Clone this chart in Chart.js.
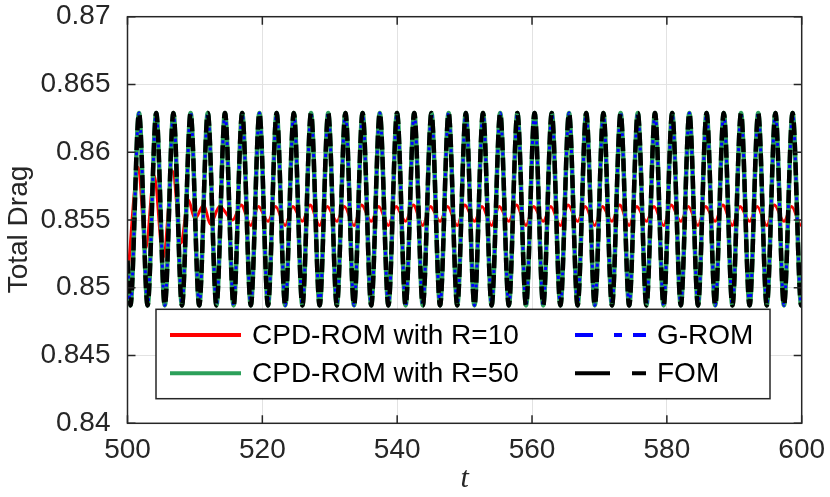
<!DOCTYPE html>
<html>
<head>
<meta charset="utf-8">
<script src="https://cdn.jsdelivr.net/npm/chart.js@4.4.1/dist/chart.umd.min.js"></script>
<style>
  html, body { margin: 0; padding: 0; background: #fff; }
  canvas { display: block; }
</style>
</head>
<body>
<canvas id="dragChart" width="830" height="497"></canvas>
<script>
// extrema of the full-order signal (G-ROM and CPD-ROM R=50 lie on top of it)
const fomT = [500, 500.43, 501.71, 502.98, 504.26, 505.53, 506.81, 508.08, 509.36, 510.64,
  511.91, 513.19, 514.46, 515.74, 517.01, 518.29, 519.57, 520.84, 522.12, 523.39,
  524.67, 525.94, 527.22, 528.5, 529.77, 531.05, 532.32, 533.6, 534.87, 536.15,
  537.42, 538.7, 539.98, 541.25, 542.53, 543.8, 545.08, 546.36, 547.63, 548.91,
  550.18, 551.46, 552.73, 554.01, 555.28, 556.56, 557.83, 559.11, 560.38, 561.66,
  562.93, 564.21, 565.49, 566.76, 568.04, 569.31, 570.59, 571.86, 573.14, 574.41,
  575.69, 576.97, 578.24, 579.52, 580.79, 582.07, 583.34, 584.62, 585.89, 587.17,
  588.44, 589.72, 591.0, 592.27, 593.55, 594.82, 596.1, 597.37, 598.65, 599.93, 600];
const fomY = [0.8520, 0.8487, 0.8629, 0.8487, 0.8629, 0.8487, 0.8629, 0.8487, 0.8629, 0.8487,
  0.8629, 0.8487, 0.8629, 0.8487, 0.8629, 0.8487, 0.8629, 0.8487, 0.8629, 0.8487,
  0.8629, 0.8487, 0.8629, 0.8487, 0.8629, 0.8487, 0.8629, 0.8487, 0.8629, 0.8487,
  0.8629, 0.8487, 0.8629, 0.8487, 0.8629, 0.8487, 0.8629, 0.8487, 0.8629, 0.8487,
  0.8629, 0.8487, 0.8629, 0.8487, 0.8629, 0.8487, 0.8629, 0.8487, 0.8629, 0.8487,
  0.8629, 0.8487, 0.8629, 0.8487, 0.8629, 0.8487, 0.8629, 0.8487, 0.8629, 0.8487,
  0.8629, 0.8487, 0.8629, 0.8487, 0.8629, 0.8487, 0.8629, 0.8487, 0.8629, 0.8487,
  0.8629, 0.8487, 0.8629, 0.8487, 0.8629, 0.8487, 0.8629, 0.8487, 0.8629, 0.8487, 0.8487];
const gromY = fomY;
const cpd50Y = fomY;

// CPD-ROM with R=10: transient, then small wiggle around 0.8555
const cpd10T = [500, 501.6, 502.7, 503.95, 505.3, 506.7, 507.95, 509.0, 510.0, 511.3,
  512.3, 513.65, 515.6, 516.86, 518.29, 519.42, 520.84, 521.97, 523.39, 524.52,
  525.94, 527.07, 528.5, 529.62, 531.05, 532.17, 533.6, 534.72, 536.15, 537.27,
  538.7, 539.83, 541.25, 542.38, 543.8, 544.93, 546.36, 547.48, 548.91, 550.03,
  551.46, 552.58, 554.01, 555.13, 556.56, 557.68, 559.11, 560.23, 561.66, 562.78,
  564.21, 565.34, 566.76, 567.89, 569.31, 570.44, 571.86, 572.99, 574.41, 575.54,
  576.97, 578.09, 579.52, 580.64, 582.07, 583.19, 584.62, 585.74, 587.17, 588.29,
  589.72, 590.85, 592.27, 593.4, 594.82, 595.95, 597.37, 598.5, 599.93, 600];
const cpd10Y = [0.8506, 0.8589, 0.8529, 0.8583, 0.8522, 0.8586, 0.8533, 0.8565, 0.8551, 0.8561,
  0.8547, 0.8560, 0.8550, 0.8561, 0.8546, 0.8560, 0.8549, 0.8560, 0.8546, 0.8560,
  0.8549, 0.8561, 0.8546, 0.8560, 0.8549, 0.8560, 0.8546, 0.8561, 0.8549, 0.8560,
  0.8546, 0.8560, 0.8549, 0.8561, 0.8546, 0.8560, 0.8549, 0.8560, 0.8546, 0.8561,
  0.8549, 0.8560, 0.8546, 0.8560, 0.8549, 0.8561, 0.8546, 0.8560, 0.8549, 0.8560,
  0.8546, 0.8561, 0.8549, 0.8560, 0.8546, 0.8560, 0.8549, 0.8561, 0.8546, 0.8560,
  0.8549, 0.8560, 0.8546, 0.8561, 0.8549, 0.8560, 0.8546, 0.8560, 0.8549, 0.8561,
  0.8546, 0.8560, 0.8549, 0.8560, 0.8546, 0.8561, 0.8549, 0.8560, 0.8546, 0.8547];

const xTicks = [500, 520, 540, 560, 580, 600];
const yTicks = [0.84, 0.845, 0.85, 0.855, 0.86, 0.865, 0.87];

const TEXT = '#262626';
const FONT = "'Liberation Sans', Arial, Helvetica, sans-serif";

function pts(ts, ys) {
  return ts.map((t, i) => ({ x: t, y: ys[i] }));
}

// legend entries (drawn in a box inside the axes, two columns)
const legendItems = [
  { label: 'CPD-ROM with R=10', color: '#ff0000', dash: [], col: 0, row: 0 },
  { label: 'CPD-ROM with R=50', color: '#2ca05a', dash: [], col: 0, row: 1 },
  { label: 'G-ROM', color: '#0000ff', dash: [18, 21, 8, 11], col: 1, row: 0 },
  { label: 'FOM', color: '#000000', dash: [35, 22], col: 1, row: 1 }
];

const framePlugin = {
  id: 'frame',
  afterDatasetsDraw(chart) {
    const ctx = chart.ctx;
    const a = chart.chartArea;
    const xs = chart.scales.x, ys = chart.scales.y;
    ctx.save();
    ctx.strokeStyle = TEXT;
    ctx.lineWidth = 1.5;
    ctx.setLineDash([]);
    // inward ticks on all four sides
    ctx.beginPath();
    xTicks.forEach(v => {
      const px = xs.getPixelForValue(v);
      ctx.moveTo(px, a.bottom); ctx.lineTo(px, a.bottom - 8);
      ctx.moveTo(px, a.top); ctx.lineTo(px, a.top + 8);
    });
    yTicks.forEach(v => {
      const py = ys.getPixelForValue(v);
      ctx.moveTo(a.left, py); ctx.lineTo(a.left + 8, py);
      ctx.moveTo(a.right, py); ctx.lineTo(a.right - 8, py);
    });
    ctx.stroke();
    ctx.strokeRect(a.left, a.top, a.right - a.left, a.bottom - a.top);

    // legend box
    const bx = 156, by = 309.3, bw = 614, bh = 89.4;
    ctx.fillStyle = '#ffffff';
    ctx.fillRect(bx, by, bw, bh);
    ctx.strokeRect(bx, by, bw, bh);
    const colLine = [170, 575], colText = [252, 657], rowY = [335, 373.3];
    ctx.font = '28px ' + FONT;
    ctx.textBaseline = 'middle';
    ctx.textAlign = 'left';
    legendItems.forEach(it => {
      const x0 = colLine[it.col], y0 = rowY[it.row];
      ctx.strokeStyle = it.color;
      ctx.lineWidth = 4;
      ctx.setLineDash(it.dash);
      ctx.beginPath();
      ctx.moveTo(x0, y0);
      ctx.lineTo(x0 + 71, y0);
      ctx.stroke();
      ctx.fillStyle = '#000000';
      ctx.fillText(it.label, colText[it.col], y0 + 1);
    });

    // y axis title
    ctx.setLineDash([]);
    ctx.fillStyle = TEXT;
    ctx.translate(19, 229.5);
    ctx.rotate(-Math.PI / 2);
    ctx.textAlign = 'center';
    ctx.fillText('Total Drag', 0, 0);
    ctx.restore();
  }
};

const ctx = document.getElementById('dragChart').getContext('2d');
const dragChart = new Chart(ctx, {
  type: 'line',
  data: {
    datasets: [
      {
        label: 'FOM',
        data: pts(fomT, fomY),
        borderColor: '#000000',
        borderWidth: 4.5,
        borderDash: [13, 7]
      },
      {
        label: 'G-ROM',
        data: pts(fomT, gromY),
        borderColor: '#0000ff',
        borderWidth: 3,
        borderDash: [3, 17],
        borderDashOffset: -15
      },
      {
        label: 'CPD-ROM with R=50',
        data: pts(fomT, cpd50Y),
        borderColor: '#2ca05a',
        borderWidth: 4.5
      },
      {
        label: 'CPD-ROM with R=10',
        data: pts(cpd10T, cpd10Y),
        borderColor: '#ff0000',
        borderWidth: 3
      }
    ]
  },
  options: {
    responsive: false,
    animation: false,
    events: [],
    layout: { padding: { left: 0, top: 16.7, right: 28.3, bottom: 0 } },
    elements: {
      point: { radius: 0 },
      line: { cubicInterpolationMode: 'monotone', fill: false }
    },
    plugins: {
      legend: { display: false },
      tooltip: { enabled: false }
    },
    scales: {
      x: {
        type: 'linear',
        min: 500,
        max: 600,
        afterBuildTicks: s => { s.ticks = xTicks.map(v => ({ value: v })); },
        afterFit: s => {
          s.height = 73.7;
          s.paddingLeft = 0;
          s.paddingRight = 0;
        },
        ticks: {
          color: TEXT,
          font: { size: 28, family: FONT },
          padding: 10,
          maxRotation: 0
        },
        grid: { color: '#e2e2e2', lineWidth: 1, drawTicks: false },
        border: { display: false },
        title: {
          display: true,
          text: 't',
          color: TEXT,
          font: { size: 30, family: "'Liberation Serif', 'Times New Roman', serif", style: 'italic' },
          padding: { top: 0, bottom: 0 }
        }
      },
      y: {
        min: 0.84,
        max: 0.87,
        afterBuildTicks: s => { s.ticks = yTicks.map(v => ({ value: v })); },
        afterFit: s => {
          s.width = 127.5;
          s.paddingTop = 0;
          s.paddingBottom = 0;
        },
        ticks: {
          color: TEXT,
          font: { size: 28, family: FONT },
          padding: 17,
          callback: v => String(Number(v.toFixed(3)))
        },
        grid: { color: '#e2e2e2', lineWidth: 1, drawTicks: false },
        border: { display: false }
      }
    }
  },
  plugins: [framePlugin]
});
</script>
</body>
</html>
